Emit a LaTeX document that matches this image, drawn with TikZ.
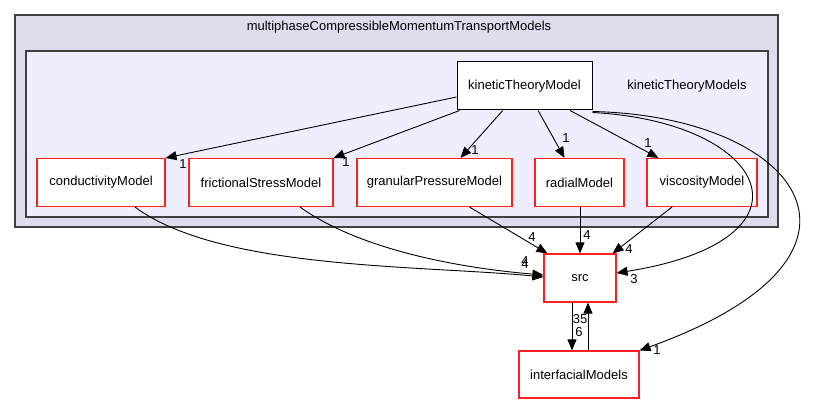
\documentclass[tikz,border=0pt]{standalone}
\usepackage{fontspec}
\setmainfont{Liberation Sans}
\usetikzlibrary{arrows.meta,calc}
\definecolor{outerfill}{HTML}{DDDDEE}
\definecolor{innerfill}{HTML}{EEEEFF}
\definecolor{frame}{HTML}{404040}
\definecolor{redb}{HTML}{FF2020}
\begin{document}
\begin{tikzpicture}[x=1pt,y=-1pt,
  every node/.style={font=\fontsize{13}{15}\selectfont},
  dirbox/.style={draw=redb,line width=1.1pt,fill=white,minimum height=48pt,inner sep=0pt},
  mainbox/.style={draw=black,line width=1pt,fill=white,minimum height=48pt,inner sep=0pt},
  dep/.style={draw=black,line width=0.9pt,-{Triangle[length=11pt,width=9pt]}},
  lbl/.style={inner sep=0pt,font=\fontsize{13}{15}\selectfont}]
\useasboundingbox (0,0) rectangle (815,404);
% clusters
\draw[draw=frame,line width=1.6pt,fill=outerfill] (15,15) rectangle (778,227);
\node[lbl] (outerlbl) at (399,27) {multiphaseCompressibleMomentumTransportModels};
\draw[draw=frame,line width=1.3pt,fill=innerfill] (26,51) rectangle (768,217);
\node[lbl] (innerlbl) at (687,86) {kineticTheoryModels};
% nodes
\node[mainbox,minimum width=135pt] (ktm) at (524.5,86) {kineticTheoryModel};
\node[dirbox,minimum width=128pt] (cond) at (101,182.5) {conductivityModel};
\node[dirbox,minimum width=144pt] (fric) at (261,182.5) {frictionalStressModel};
\node[dirbox,minimum width=155pt] (gran) at (434.5,182.5) {granularPressureModel};
\node[dirbox,minimum width=89pt] (rad) at (579.5,182.5) {radialModel};
\node[dirbox,minimum width=110pt] (visc) at (702,182.5) {viscosityModel};
\node[dirbox,minimum width=72pt] (src) at (580,278) {src};
\node[dirbox,minimum width=120pt,minimum height=47pt] (intf) at (579,374.5) {interfacialModels};
% edges from kineticTheoryModel
\draw[dep] (ktm.west|-457,97) -- (cond.north east);
\node[lbl] (l1) at (183,164) {1};
\draw[dep] (ktm) -- (fric.north east);
\node[lbl] (l2) at (346,162) {1};
\draw[dep] (ktm) -- ($(gran.north)+(26,0)$);
\node[lbl] (l3) at (475,150) {1};
\draw[dep] (ktm) -- ($(rad.north)+(-15,0)$);
\node[lbl] (l4) at (566,138) {1};
\draw[dep] (ktm) -- ($(visc.north west)+(12,0)$);
\node[lbl] (l5) at (648,143) {1};
\draw[dep] ($(ktm.south east)+(0,2)$) .. controls (770,122) and (825,240) .. ($(src.east)+(0,-5)$);
\node[lbl] (l6) at (634,279) {3};
\draw[dep] ($(ktm.south east)+(0,1)$) .. controls (800,116) and (905,255) .. (intf.north east);
\node[lbl] (l7) at (657,350) {1};
% edges into src
\draw[dep] ($(cond.south)+(34,0)$) .. controls (220,270) and (420,265) .. ($(src.west)+(0,-1)$);
\draw[dep] ($(fric.south)+(39,0)$) .. controls (360,250) and (460,268) .. ($(src.west)+(0,-3)$);
\node[lbl] (l8) at (525,261) {4};
\node[lbl] (l9) at (525,264) {4};
\draw[dep] ($(gran.south)+(35,0)$) -- ($(src.north west)+(4,0)$);
\node[lbl] (l10) at (532,237) {4};
\draw[dep] (rad.south-|580,0) -- (src.north-|580,0);
\node[lbl] (l11) at (587,235) {4};
\draw[dep] ($(visc.south)+(-30,0)$) -- ($(src.north east)+(-4,0)$);
\node[lbl] (l12) at (629,249) {4};
% src <-> interfacialModels
\draw[dep] (src.south-|572,0) -- (intf.north-|572,0);
\draw[dep] (intf.north-|588,0) -- (src.south-|588,0);
\node[lbl] (l13) at (580,319) {35};
\node[lbl] (l14) at (579,332) {6};
\end{tikzpicture}
\end{document}
